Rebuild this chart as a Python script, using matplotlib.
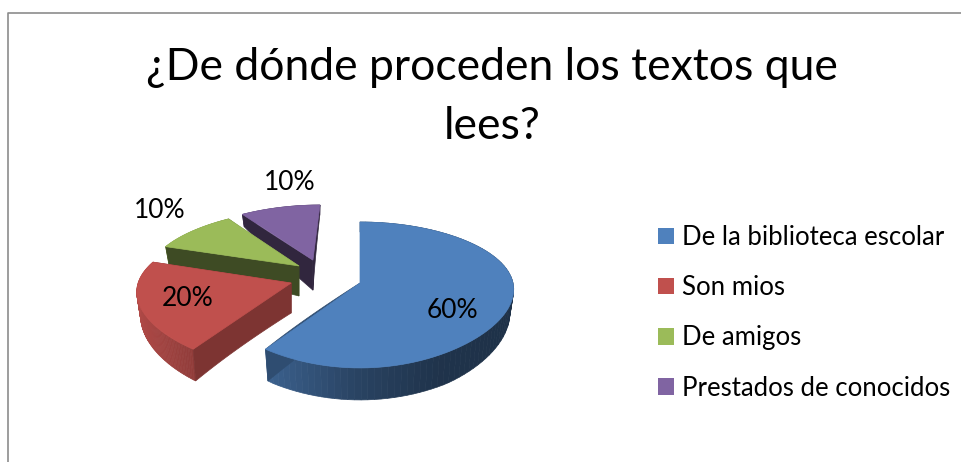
from matplotlib import pyplot as plt
from matplotlib.patches import Patch
import numpy as np

plt.rcParams['font.family'] = ['Lato', 'DejaVu Sans']

title = '¿De dónde proceden los textos que\nlees?'
categories = ['De la biblioteca escolar', 'Son mios', 'De amigos', 'Prestados de conocidos']
values = np.array([60, 20, 10, 10])
colors = ['#4f81bd', '#c0504d', '#9bbb59', '#8064a2']

# explode of each slice, in disc radii (right, back)
explode = [(0, 0), (-0.45, 0), (-0.41, 0.25), (-0.32, 0.34)]
face_dark = [0.6, 0.65, 0.4, 0.38]
label_pos = [(452, 311), (188, 298), (160, 210), (290, 182)]

cx, cy = 360, 283
Rx, Ry = 153, 71


def project(u, v):
    return cx + Rx*u/(1 + 0.1*v + 0.05*v**2), cy - Ry*v/(1 + 0.164*v)


def shade(color, f):
    rgb = np.array(plt.matplotlib.colors.to_rgb(color))
    return tuple(rgb*f)


def bottom(u, v, off):
    # depth shrinks towards the back of the pie (perspective)
    lu, lv = u - off[0], v - off[1]
    d = np.minimum(30 - 8*np.hypot(lu, lv) - 12*lv, 32)
    x, y = project(u, v)
    ax0, _ = project(off[0], off[1])
    return ax0 + 0.975*(x - ax0), y + d


fig = plt.figure(figsize=(9.62, 4.62), dpi=100)
ax = fig.add_axes([0, 0, 1, 1])
ax.set_xlim(0, 962)
ax.set_ylim(462, 0)
ax.axis('off')

# chart border, only the top and left show
ax.plot([962, 8.5, 8.5], [12.5, 12.5, 462], color='#8c8c8c', lw=1.2)

ends = np.cumsum(values)/values.sum()*2*np.pi
starts = np.r_[0, ends[:-1]]

# back slices first
for i in [3, 2, 1, 0]:
    off = explode[i]
    t = np.linspace(starts[i], ends[i], 90)
    u = np.sin(t) + off[0]
    v = np.cos(t) + off[1]

    # outer wall
    bx, by = bottom(u, v, off)
    tx, ty = project(u, v)
    for k in range(len(t) - 1):
        f = np.interp(np.sin(t[k]), [-1, -0.6, 0, 0.5, 1], [0.92, 0.76, 0.52, 0.4, 0.38])
        c = shade(colors[i], f)
        ax.fill([tx[k], tx[k+1], bx[k+1], bx[k]], [ty[k], ty[k+1], by[k+1], by[k]],
                facecolor=c, edgecolor=c, lw=0.5)

    # the two cut walls
    for n in [0, -1]:
        r = np.linspace(0, 1, 20)
        ru = r*np.sin(t[n]) + off[0]
        rv = r*np.cos(t[n]) + off[1]
        px, py = project(ru, rv)
        qx, qy = bottom(ru, rv, off)
        c = shade(colors[i], face_dark[i])
        ax.fill(np.r_[px, qx[::-1]], np.r_[py, qy[::-1]], facecolor=c, edgecolor=c, lw=0.5)

    # top face
    ox, oy = project(off[0], off[1])
    ax.fill(np.r_[ox, tx], np.r_[oy, ty], facecolor=colors[i], edgecolor=colors[i], lw=0.5)

for val, (x, y) in zip(values, label_pos):
    ax.text(x, y, f'{val}%', ha='center', va='center', fontsize=19, color='black')

ax.text(492, 97, title, ha='center', va='center', fontsize=32, color='black', linespacing=1.57)

handles = [Patch(facecolor=c, label=n) for c, n in zip(colors, categories)]
ax.legend(handles=handles, loc='upper left', bbox_to_anchor=(658/962, 1 - 225/462),
          frameon=False, fontsize=18.5, handlelength=0.62, handleheight=0.62,
          handletextpad=0.3, labelspacing=0.98, borderpad=0, borderaxespad=0)

fig.savefig('out.png', dpi=100)
